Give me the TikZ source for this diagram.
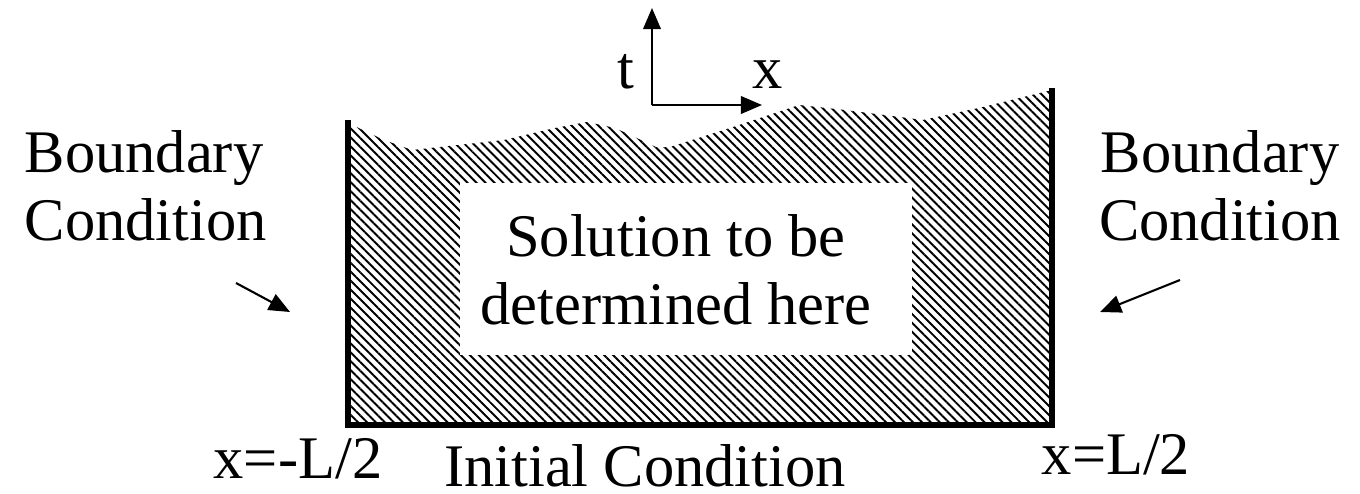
\documentclass[tikz,border=0pt]{standalone}
\usepackage{fontspec}
\setmainfont{Liberation Serif}
\usetikzlibrary{arrows.meta,patterns.meta}

\begin{document}
\begin{tikzpicture}[x=0.01cm,y=-0.01cm,>={Triangle[length=6pt,width=5pt]},
  lbl/.style={font=\fontsize{17.2}{19.4}\selectfont,inner sep=0pt,align=center},
  thin arrow/.style={->,line width=0.6pt}]
  \useasboundingbox (0,0) rectangle (1360,494);
  \fill[pattern={Lines[angle=-45,distance=1.8pt,line width=0.55pt]}]
    (348,123) -- (384,140) -- (412,150) -- (504,140) -- (555,128) -- (587,122)
    -- (615,128) -- (656,147) -- (670,147) -- (730,128) -- (799,105) -- (845,110)
    -- (923,120) -- (983,107) -- (1052,90) -- (1052,425) -- (348,425) -- cycle;
  \draw[line width=1.8pt,line join=miter] (348,120) -- (348,425) -- (1052,425) -- (1052,88);
  \node[lbl,fill=white,minimum width=4.52cm,minimum height=1.72cm] (soln) at (686,269) {};
  \node[lbl] (solntxt) at (676,270) {Solution to be\\determined here};
  \coordinate (org) at (652,105);
  \coordinate (tend) at (652,8);
  \coordinate (xend) at (762,105);
  \draw[thin arrow] (org) -- (tend);
  \draw[thin arrow] (org) -- (xend);
  \node[lbl] (tlbl) at (626,72) {t};
  \node[lbl] (xlbl) at (768,75) {x};
  \node[lbl,align=left,anchor=west] (bcl) at (24,186) {Boundary\\Condition};
  \node[lbl] (bcr) at (1220,186) {Boundary\\Condition};
  \coordinate (bclfrom) at (236,283);
  \coordinate (bclto) at (290,312);
  \coordinate (bcrfrom) at (1180,280);
  \coordinate (bcrto) at (1100,312);
  \draw[thin arrow] (bclfrom) -- (bclto);
  \draw[thin arrow] (bcrfrom) -- (bcrto);
  \node[lbl,anchor=base] (xleft) at (298,478) {x=-L/2};
  \node[lbl,anchor=base] (xright) at (1116,474) {x=L/2};
  \node[lbl,anchor=base] (ic) at (645,486) {Initial Condition};
\end{tikzpicture}
\end{document}
